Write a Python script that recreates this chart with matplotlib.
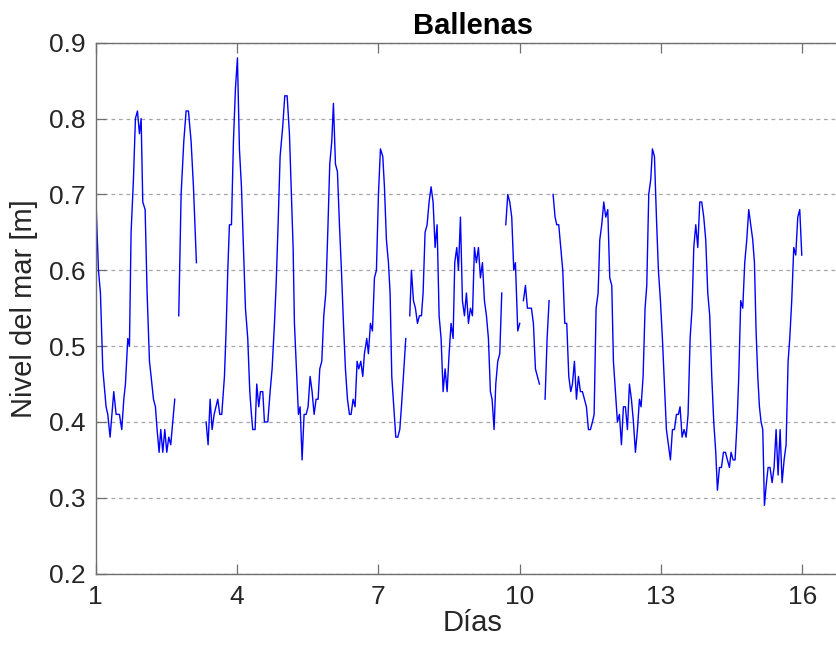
import numpy as np
import matplotlib
matplotlib.use("Agg")
import matplotlib.pyplot as plt

plt.rcParams['font.family'] = ['Liberation Sans', 'DejaVu Sans']

nan = float('nan')

# time in days and sea level [m]; nan marks gaps in the record
dias = [
    1.000, 1.058, 1.100, 1.150, 1.220, 1.256, 1.305, 1.383, 1.433, 1.504, 1.553, 1.596, 1.631, 1.681, 1.716,
    1.751, 1.801, 1.843, 1.886, 1.928, 1.964, 1.999, 2.049, 2.091, 2.141, 2.176, 2.226, 2.268, 2.303, 2.346,
    2.381, 2.424, 2.466, 2.509, 2.551, 2.593, 2.636, 2.678, 2.72,
    2.763, 2.813, 2.870, 2.919, 2.969, 3.025, 3.075, 3.138, 3.24,
    3.344, 3.386, 3.429, 3.471, 3.514, 3.591, 3.634, 3.676, 3.733, 3.768, 3.804, 3.839, 3.882, 3.924, 3.967,
    4.009, 4.051, 4.094, 4.136, 4.179, 4.228, 4.271, 4.306, 4.334, 4.384, 4.419, 4.462, 4.497, 4.547, 4.582,
    4.653, 4.703, 4.745, 4.795, 4.830, 4.872, 4.915, 4.971, 5.014, 5.064, 5.113, 5.149, 5.191, 5.219, 5.262,
    5.304, 5.340, 5.382, 5.424, 5.467, 5.509, 5.552, 5.594, 5.637, 5.679, 5.722, 5.757, 5.800, 5.842, 5.885,
    5.927, 5.969, 6.012, 6.047, 6.090, 6.132, 6.175, 6.217, 6.260, 6.302, 6.345, 6.387, 6.422, 6.465, 6.507,
    6.550, 6.585, 6.628, 6.670, 6.705, 6.755, 6.790, 6.833, 6.875, 6.918, 6.960, 7.003, 7.045, 7.095, 7.130,
    7.172, 7.215, 7.250, 7.286, 7.328, 7.371, 7.413, 7.456, 7.491, 7.533, 7.583, 7.62,
    7.668, 7.703, 7.746, 7.788, 7.831, 7.873, 7.916, 7.951, 7.993, 8.036, 8.078, 8.121, 8.163, 8.206, 8.248,
    8.291, 8.333, 8.376, 8.418, 8.461, 8.503, 8.545, 8.588, 8.623, 8.666, 8.701, 8.744, 8.786, 8.829, 8.871,
    8.914, 8.956, 8.999, 9.041, 9.083, 9.126, 9.168, 9.211, 9.253, 9.296, 9.338, 9.380, 9.416, 9.458, 9.494,
    9.536, 9.579, 9.621, 9.66,
    9.706, 9.749, 9.791, 9.833, 9.876, 9.911, 9.961, 10.003, 10.04,
    10.081, 10.124, 10.166, 10.209, 10.251, 10.293, 10.336, 10.378, 10.421, 10.48,
    10.541, 10.584, 10.626, 10.67,
    10.711, 10.753, 10.789, 10.831, 10.874, 10.916, 10.959, 11.001, 11.044, 11.086, 11.122, 11.164, 11.207,
    11.249, 11.291, 11.334, 11.376, 11.419, 11.461, 11.504, 11.546, 11.582, 11.624, 11.667, 11.702, 11.744,
    11.787, 11.829, 11.872, 11.914, 11.957, 11.992, 12.034, 12.077, 12.119, 12.162, 12.204, 12.247, 12.289,
    12.332, 12.374, 12.417, 12.459, 12.502, 12.544, 12.579, 12.622, 12.664, 12.700, 12.742, 12.785, 12.820,
    12.863, 12.905, 12.947, 12.990, 13.032, 13.075, 13.117, 13.160, 13.202, 13.245, 13.287, 13.330, 13.372,
    13.407, 13.450, 13.492, 13.535, 13.577, 13.620, 13.662, 13.698, 13.740, 13.783, 13.825, 13.867, 13.910,
    13.952, 13.995, 14.037, 14.080, 14.122, 14.165, 14.200, 14.243, 14.285, 14.328, 14.370, 14.412, 14.455,
    14.490, 14.533, 14.575, 14.618, 14.653, 14.695, 14.738, 14.780, 14.823, 14.865, 14.908, 14.950, 14.986,
    15.021, 15.057, 15.092, 15.127, 15.163, 15.198, 15.241, 15.276, 15.318, 15.361, 15.403, 15.446, 15.488,
    15.531, 15.573, 15.616, 15.658, 15.701, 15.736, 15.778, 15.821, 15.863, 15.906, 15.948, 15.991,
]

nivel = [
    0.70, 0.60, 0.57, 0.47, 0.42, 0.41, 0.38, 0.44, 0.41, 0.41, 0.39, 0.43, 0.45, 0.51, 0.50,
    0.65, 0.72, 0.80, 0.81, 0.78, 0.80, 0.69, 0.68, 0.57, 0.48, 0.46, 0.43, 0.42, 0.39, 0.36,
    0.39, 0.36, 0.39, 0.36, 0.38, 0.37, 0.40, 0.43, nan,
    0.54, 0.70, 0.77, 0.81, 0.81, 0.77, 0.71, 0.61, nan,
    0.40, 0.37, 0.43, 0.39, 0.41, 0.43, 0.41, 0.41, 0.46, 0.52, 0.60, 0.66, 0.66, 0.77, 0.84,
    0.88, 0.76, 0.71, 0.63, 0.55, 0.51, 0.44, 0.41, 0.39, 0.39, 0.45, 0.42, 0.44, 0.44, 0.40,
    0.40, 0.44, 0.47, 0.53, 0.58, 0.66, 0.75, 0.79, 0.83, 0.83, 0.78, 0.71, 0.63, 0.53, 0.47,
    0.41, 0.42, 0.35, 0.41, 0.41, 0.42, 0.46, 0.44, 0.41, 0.43, 0.43, 0.47, 0.48, 0.54, 0.57,
    0.65, 0.74, 0.77, 0.82, 0.74, 0.73, 0.66, 0.60, 0.53, 0.47, 0.43, 0.41, 0.41, 0.43, 0.42,
    0.48, 0.47, 0.48, 0.46, 0.49, 0.51, 0.49, 0.53, 0.52, 0.59, 0.60, 0.70, 0.76, 0.75, 0.71,
    0.64, 0.61, 0.57, 0.46, 0.42, 0.38, 0.38, 0.39, 0.42, 0.46, 0.51, nan,
    0.54, 0.60, 0.56, 0.55, 0.53, 0.54, 0.54, 0.57, 0.65, 0.66, 0.69, 0.71, 0.69, 0.63, 0.66,
    0.54, 0.51, 0.44, 0.47, 0.44, 0.49, 0.53, 0.51, 0.61, 0.63, 0.60, 0.67, 0.56, 0.54, 0.57,
    0.53, 0.55, 0.54, 0.63, 0.61, 0.63, 0.59, 0.61, 0.56, 0.54, 0.51, 0.44, 0.43, 0.39, 0.45,
    0.48, 0.49, 0.57, nan,
    0.66, 0.70, 0.69, 0.67, 0.60, 0.61, 0.52, 0.53, nan,
    0.56, 0.58, 0.55, 0.55, 0.55, 0.53, 0.47, 0.46, 0.45, nan,
    0.43, 0.51, 0.56, nan,
    0.70, 0.67, 0.66, 0.66, 0.63, 0.60, 0.53, 0.53, 0.46, 0.44, 0.45, 0.48, 0.43,
    0.46, 0.44, 0.44, 0.43, 0.42, 0.39, 0.39, 0.40, 0.41, 0.55, 0.57, 0.64, 0.66,
    0.69, 0.67, 0.68, 0.59, 0.58, 0.48, 0.44, 0.40, 0.41, 0.37, 0.42, 0.42, 0.39,
    0.45, 0.43, 0.40, 0.36, 0.39, 0.43, 0.42, 0.46, 0.55, 0.58, 0.70, 0.72, 0.76,
    0.75, 0.67, 0.60, 0.56, 0.51, 0.45, 0.39, 0.37, 0.35, 0.39, 0.39, 0.41, 0.41,
    0.42, 0.38, 0.39, 0.38, 0.41, 0.51, 0.55, 0.63, 0.66, 0.63, 0.69, 0.69, 0.67,
    0.64, 0.57, 0.54, 0.46, 0.40, 0.36, 0.31, 0.34, 0.34, 0.36, 0.36, 0.35, 0.34,
    0.36, 0.35, 0.35, 0.40, 0.46, 0.56, 0.55, 0.61, 0.64, 0.68, 0.66, 0.64, 0.61,
    0.52, 0.46, 0.42, 0.40, 0.39, 0.29, 0.32, 0.34, 0.34, 0.32, 0.34, 0.39, 0.33,
    0.39, 0.32, 0.35, 0.37, 0.48, 0.51, 0.56, 0.63, 0.62, 0.67, 0.68, 0.62,
]

x_ticks = [1, 4, 7, 10, 13, 16]
y_ticks = [0.2, 0.3, 0.4, 0.5, 0.6, 0.7, 0.8, 0.9]

fig = plt.figure(figsize=(8.36, 6.48), dpi=100)
ax = fig.add_axes([0.1145, 0.1147, 0.9014, 0.8194])

ax.plot(dias, nivel, color='#0000ff', linewidth=1.0)

ax.set_xlim(1, 17)
ax.set_ylim(0.2, 0.9)
ax.set_xticks(x_ticks)
ax.set_yticks(y_ticks)
ax.set_xticklabels([str(t) for t in x_ticks])
ax.set_yticklabels([f"{t:.1f}" for t in y_ticks])

ax.yaxis.grid(True, linestyle=(0, (3, 3)), color='#a6a6a6', linewidth=0.9)
ax.xaxis.grid(False)
ax.set_axisbelow(True)

for s in ax.spines.values():
    s.set_color('#6e6e6e')
    s.set_linewidth(1.0)

ax.tick_params(axis='both', direction='in', length=7, width=0.9, color='#6e6e6e',
               labelsize=19, labelcolor='#262626', top=True, right=True)
ax.tick_params(axis='x', pad=8)
ax.tick_params(axis='y', pad=7)

ax.set_xlabel('Días', fontsize=21, color='#262626', labelpad=0)
ax.set_ylabel('Nivel del mar [m]', fontsize=21, color='#262626', labelpad=8)
ax.set_title('Ballenas', fontsize=21, fontweight='bold', color='black', pad=6)

fig.savefig('out.png', dpi=100)
